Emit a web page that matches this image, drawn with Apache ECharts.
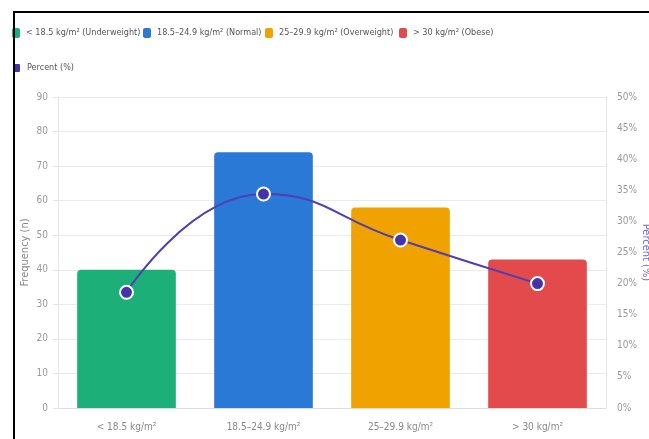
<!DOCTYPE html>
<html>
<head>
<meta charset="utf-8">
<script src="https://cdn.jsdelivr.net/npm/echarts@6/dist/echarts.min.js"></script>
<style>
  html, body { margin: 0; padding: 0; background: #fff; }
  #chart { position: absolute; left: 0; top: 0; width: 649px; height: 439px; }
  #frame { position: absolute; left: 13px; top: 11px; right: 0; bottom: 0;
           border-top: 2px solid #000; border-left: 2px solid #000; pointer-events: none; }
</style>
</head>
<body>
<div id="chart"></div>
<div id="frame"></div>
<script>
// categories on the x axis
const categories = ["< 18.5 kg/m²", "18.5–24.9 kg/m²", "25–29.9 kg/m²", "> 30 kg/m²"]
// legend names of the bar groups
const groupNames = [
  "< 18.5 kg/m² (Underweight)",
  "18.5–24.9 kg/m² (Normal)",
  "25–29.9 kg/m² (Overweight)",
  "> 30 kg/m² (Obese)"
]
// frequency (n)
const frequency = [40, 74, 58, 43]
// percent (%)
const percent = [18.6, 34.4, 27.0, 20.0]
const groupColors = ["#1caf78", "#2a79d7", "#f0a200", "#e34a4b"]
const lineColor = "#4f3fb0"

const chart = echarts.init(document.getElementById("chart"))

const font = "'DejaVu Sans Condensed', 'Liberation Sans Narrow', 'Liberation Sans', sans-serif"

const barSeries = groupNames.map((name, i) => ({
  name: name,
  type: "bar",
  stack: "bmi",
  barWidth: "72%",
  itemStyle: { color: groupColors[i], borderRadius: [4, 4, 0, 0] },
  data: frequency.map((v, j) => (j === i ? v : "-"))
}))

// one legend box per item so each sits where it does in the picture
const legendLeft = [12, 143, 265, 399]
function legendItem(name, left, top) {
  return {
    left: left,
    top: top,
    padding: 0,
    data: [name],
    icon: "roundRect",
    itemWidth: 8,
    itemHeight: 10,
    textStyle: { color: "#555", fontSize: 9, fontFamily: font, padding: [0, 0, 0, 1] }
  }
}
const legends = groupNames.map((n, i) => legendItem(n, legendLeft[i], 28))
legends.push(legendItem("Percent (%)", 12, 62))

chart.setOption({
  animation: false,
  legend: legends,
  grid: { left: 58, right: 43, top: 97, bottom: 31, outerBoundsMode: "none" },
  xAxis: {
    type: "category",
    data: categories,
    axisLine: { lineStyle: { color: "#ddd" } },
    axisTick: { show: false },
    axisLabel: { color: "#888", fontSize: 10, fontFamily: font, margin: 14 }
  },
  yAxis: [
    {
      type: "value",
      min: 0,
      max: 90,
      interval: 10,
      name: "Frequency (n)",
      nameLocation: "middle",
      nameGap: 27,
      nameMoveOverlap: false,
      nameTextStyle: { color: "#888", fontSize: 11, fontFamily: font },
      axisLine: { show: true, lineStyle: { color: "#e5e5e5" } },
      axisTick: { show: true, length: 5, lineStyle: { color: "#e5e5e5" } },
      axisLabel: { color: "#999", fontSize: 10, fontFamily: font, margin: 10 },
      splitLine: { lineStyle: { color: "#ebebeb" } }
    },
    {
      type: "value",
      min: 0,
      max: 50,
      interval: 5,
      position: "right",
      name: "Percent (%)",
      nameLocation: "middle",
      nameRotate: -90,
      nameGap: 34,
      nameMoveOverlap: false,
      nameTextStyle: { color: "#7466d0", fontSize: 11, fontFamily: font },
      axisLine: { show: true, lineStyle: { color: "#e5e5e5" } },
      axisTick: { show: false },
      axisLabel: { color: "#999", fontSize: 10, fontFamily: font, margin: 11, formatter: "{value}%" },
      splitLine: { show: false }
    }
  ],
  series: barSeries.concat([
    {
      name: "Percent (%)",
      type: "line",
      yAxisIndex: 1,
      smooth: true,
      symbol: "circle",
      symbolSize: 13,
      lineStyle: { color: lineColor, width: 2 },
      itemStyle: { color: "#4434a8", borderColor: "#fff", borderWidth: 2 },
      data: percent,
      z: 5
    }
  ])
})
</script>
</body>
</html>
